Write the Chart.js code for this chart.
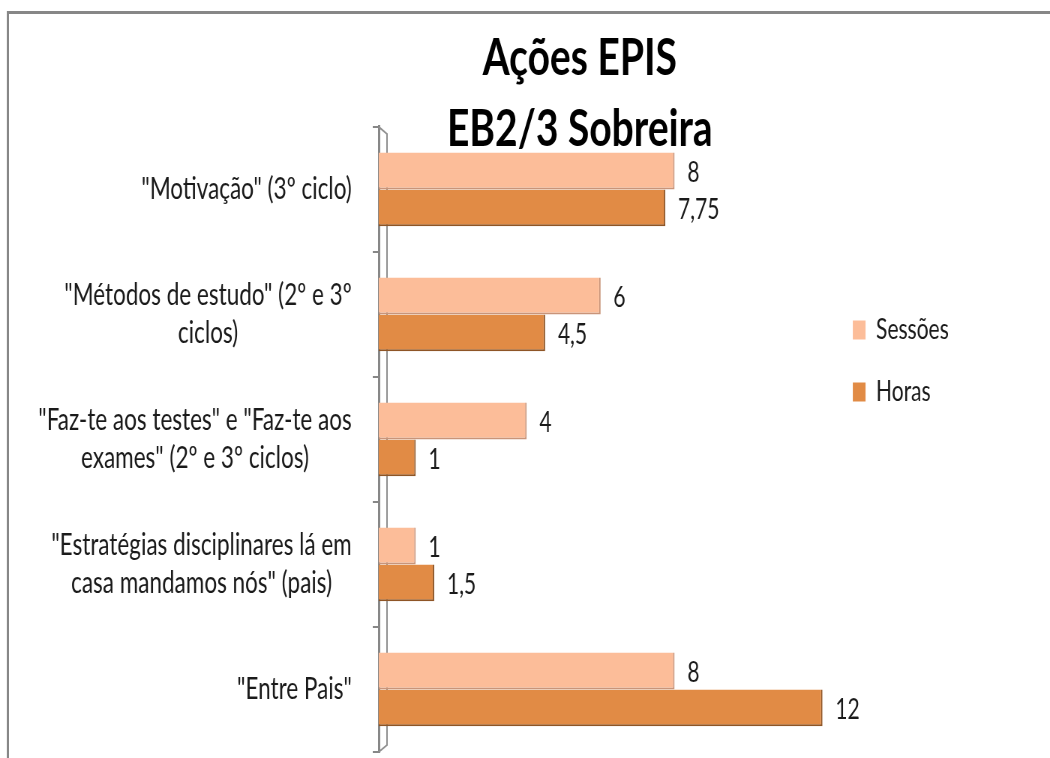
<!DOCTYPE html>
<html>
<head>
<meta charset="utf-8">
<title>Ações EPIS</title>
<script src="https://cdn.jsdelivr.net/npm/chart.js@4.4.1/dist/chart.umd.min.js"></script>
<style>
  html, body { margin: 0; padding: 0; background: #fff; }
  #chart { display: block; }
</style>
</head>
<body>
<!-- drawn 1400 wide and shown at 1050 so the text keeps the narrow look of the original -->
<canvas id="chart" width="1400" height="758" style="width:1050px;height:758px"></canvas>
<script>
const categories = [
    ['"Motivação" (3º ciclo)'],
    ['"Métodos de estudo" (2º e 3º', 'ciclos)'],
    ['"Faz-te aos testes" e "Faz-te aos', 'exames" (2º e 3º ciclos)'],
    ['"Estratégias disciplinares lá em', 'casa mandamos nós" (pais)'],
    ['"Entre Pais"']
];
const seriesNames = ['Sessões', 'Horas'];
const sessoes = [8, 6, 4, 1, 8];
const horas = [7.75, 4.5, 1, 1.5, 12];
const titleLines = ['Ações EPIS', 'EB2/3 Sobreira'];

const frame = {
    id: 'frame',
    beforeDraw(chart) {
        const ctx = chart.ctx;
        ctx.save();
        ctx.strokeStyle = '#878787';
        ctx.lineWidth = 3;
        ctx.beginPath();
        ctx.moveTo(10.5, chart.height);
        ctx.lineTo(10.5, 12.5);
        ctx.lineTo(chart.width, 12.5);
        ctx.stroke();
        ctx.restore();
    }
};

// back wall of the 3D axis, behind the bars
const axisWall = {
    id: 'axisWall',
    beforeDatasetsDraw(chart) {
        const { ctx, chartArea: a } = chart;
        ctx.save();
        ctx.strokeStyle = '#909090';
        ctx.lineWidth = 2;
        ctx.beginPath();
        ctx.moveTo(a.left, a.top);
        ctx.lineTo(a.left + 11, a.top + 7);
        ctx.lineTo(a.left + 11, a.bottom - 7);
        ctx.lineTo(a.left, a.bottom);
        ctx.stroke();
        ctx.restore();
    }
};

const labels = {
    id: 'labels',
    afterDatasetsDraw(chart) {
        const ctx = chart.ctx;
        const yScale = chart.scales.y;
        ctx.save();
        ctx.fillStyle = '#1a1a1a';
        ctx.textBaseline = 'middle';

        // category labels: block right aligned, lines centred in the block
        ctx.font = '30px Lato';
        ctx.textAlign = 'center';
        const right = chart.chartArea.left - 36;
        categories.forEach((lines, i) => {
            const y = yScale.getPixelForTick(i);
            const w = Math.max(...lines.map(l => ctx.measureText(l).width));
            lines.forEach((line, j) => {
                ctx.fillText(line, right - w / 2, y + (j - (lines.length - 1) / 2) * 38);
            });
        });

        // value labels
        ctx.font = '28px Lato';
        ctx.textAlign = 'left';
        chart.data.datasets.forEach((ds, d) => {
            chart.getDatasetMeta(d).data.forEach((bar, i) => {
                ctx.fillText(String(ds.data[i]).replace('.', ','), bar.x + 17, bar.y + 2);
            });
        });
        ctx.restore();
    }
};

const ctx = document.getElementById('chart').getContext('2d');
new Chart(ctx, {
    type: 'bar',
    data: {
        labels: categories,
        datasets: [{
            label: seriesNames[0],
            data: sessoes,
            backgroundColor: '#FCBD99',
            borderColor: '#C99479',
            borderWidth: { top: 0, left: 0, right: 2, bottom: 2 }
        }, {
            label: seriesNames[1],
            data: horas,
            backgroundColor: '#E18B45',
            borderColor: '#8E5526',
            borderWidth: { top: 0, left: 0, right: 2, bottom: 2 }
        }]
    },
    options: {
        indexAxis: 'y',
        responsive: false,
        devicePixelRatio: 1,
        animation: false,
        datasets: {
            bar: { categoryPercentage: 0.59, barPercentage: 1.0 }
        },
        // negative top lifts the legend a bit; the title padding makes up for it
        layout: { padding: { left: 271, right: 125, top: -30, bottom: 6 } },
        plugins: {
            title: {
                display: true,
                text: titleLines,
                color: '#000',
                font: { family: 'Lato', size: 52, weight: 'bold', lineHeight: 1.365 },
                padding: { top: 53, bottom: -38 }
            },
            legend: {
                position: 'right',
                align: 'center',
                labels: {
                    font: { family: 'Lato', size: 28 },
                    color: '#1a1a1a',
                    boxWidth: 17,
                    boxHeight: 19,
                    padding: 34,
                    generateLabels: chart => Chart.defaults.plugins.legend.labels.generateLabels(chart)
                        .map(item => ({ ...item, lineWidth: 0 }))
                }
            },
            tooltip: { enabled: false }
        },
        scales: {
            x: { display: false, min: 0, max: 12.13 },
            y: {
                grid: {
                    offset: true,
                    drawOnChartArea: false,
                    tickLength: 8,
                    color: '#878787',
                    lineWidth: 2
                },
                border: { color: '#878787', width: 3 },
                ticks: { display: false },
                afterFit(scale) { scale.width = 234; }
            }
        }
    },
    plugins: [frame, axisWall, labels]
});
</script>
</body>
</html>
